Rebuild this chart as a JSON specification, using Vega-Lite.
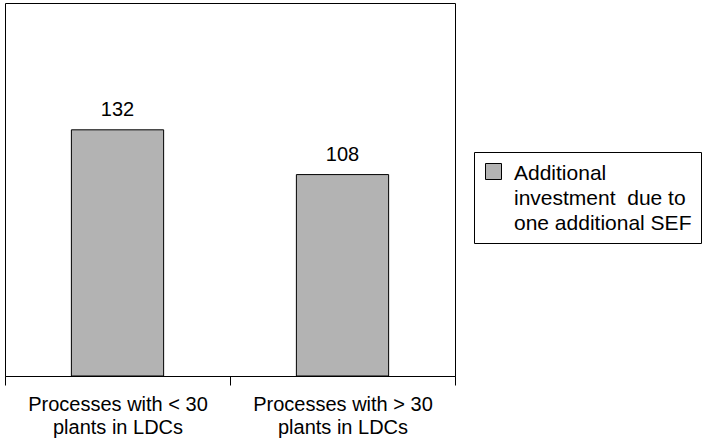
{
  "$schema": "https://vega.github.io/schema/vega-lite/v6.json",
  "width": 450,
  "height": 373,
  "autosize": "none",
  "padding": {"left": 5, "top": 3, "right": 249, "bottom": 69},
  "background": "white",
  "config": {
    "view": {"stroke": "black", "strokeWidth": 1},
    "font": "Liberation Sans"
  },
  "data": {
    "values": [
      {"category": "Processes with < 30|plants in LDCs", "value": 132, "series": "Additional|investment\u00a0 due to|one additional SEF"},
      {"category": "Processes with > 30|plants in LDCs", "value": 108, "series": "Additional|investment\u00a0 due to|one additional SEF"}
    ]
  },
  "encoding": {
    "x": {
      "field": "category",
      "type": "nominal",
      "sort": null,
      "scale": {"paddingInner": 0, "paddingOuter": 0},
      "axis": {
        "title": null,
        "labelAngle": 0,
        "tickBand": "extent",
        "labelExpr": "split(datum.label, '|')",
        "domainColor": "black",
        "tickColor": "black",
        "tickSize": 9,
        "labelFontSize": 20,
        "labelColor": "black",
        "labelPadding": 9,
        "labelLineHeight": 23
      }
    },
    "y": {
      "field": "value",
      "type": "quantitative",
      "scale": {"domain": [0, 200]},
      "axis": null
    }
  },
  "layer": [
    {
      "mark": {"type": "bar", "stroke": "black", "strokeWidth": 1, "width": {"band": 0.41}},
      "encoding": {
        "fill": {
          "field": "series",
          "type": "nominal",
          "scale": {"range": ["#b3b3b3"]},
          "legend": {
            "title": null,
            "orient": "none",
            "legendX": 469,
            "legendY": 149,
            "strokeColor": "black",
            "fillColor": "white",
            "padding": 9,
            "symbolType": "square",
            "symbolSize": 256,
            "symbolStrokeColor": "black",
            "symbolStrokeWidth": 1,
            "labelFontSize": 21,
            "labelColor": "black",
            "labelOffset": 10,
            "labelLimit": 400,
            "labelExpr": "split(datum.label, '|')",
            "labelBaseline": "alphabetic",
            "encode": {
              "labels": {"update": {"lineHeight": {"value": 25}, "dy": {"value": 8}}},
              "symbols": {"update": {"stroke": {"value": "black"}, "strokeWidth": {"value": 1}}}
            }
          }
        }
      }
    },
    {
      "mark": {"type": "text", "baseline": "bottom", "dy": -10, "fontSize": 20, "color": "black"},
      "encoding": {"text": {"field": "value", "type": "quantitative"}}
    }
  ]
}
